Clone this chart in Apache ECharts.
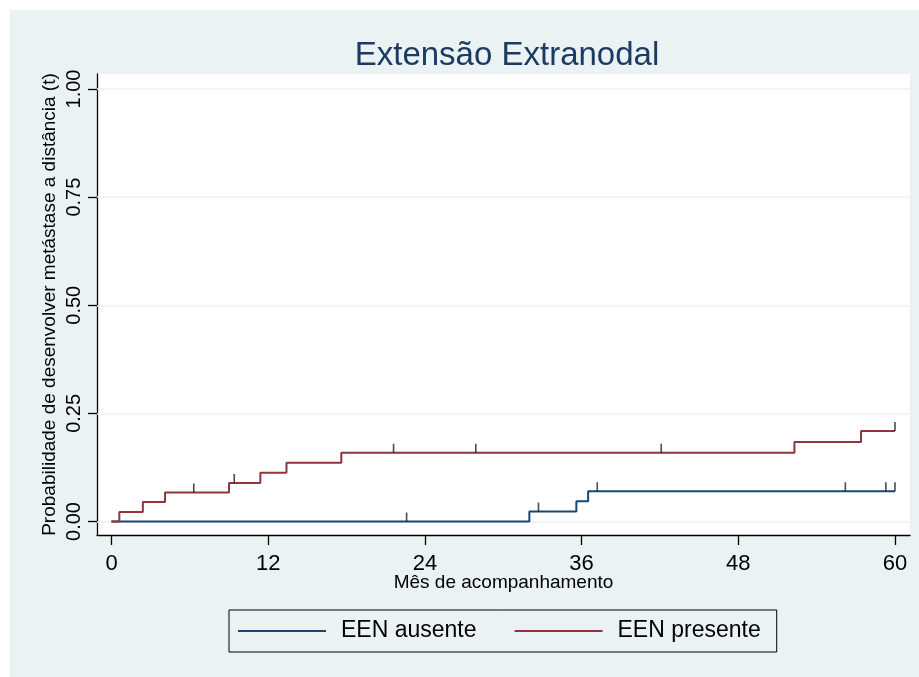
<!DOCTYPE html>
<html>
<head>
<meta charset="utf-8">
<script src="https://cdn.jsdelivr.net/npm/echarts@6/dist/echarts.min.js"></script>
<style>
  html, body { margin: 0; padding: 0; background: #ffffff; }
  #chart { width: 919px; height: 677px; }
</style>
</head>
<body>
<div id="chart"></div>
<script>
// Kaplan-Meier cumulative incidence of distant metastasis by extranodal extension
const seriesNames = ['EEN ausente', 'EEN presente'];

// EEN ausente: event times (months) and cumulative probability after each step
const ausenteTimes = [0, 32.0, 35.6, 36.5, 60];
const ausenteProb  = [0, 0.023, 0.047, 0.070, 0.070];
const ausenteCensored = [22.6, 32.7, 37.2, 56.2, 59.3, 60];

// EEN presente
const presenteTimes = [0, 0.6, 2.4, 4.1, 9.0, 11.4, 13.4, 17.6, 52.3, 57.4, 60];
const presenteProb  = [0, 0.022, 0.045, 0.067, 0.089, 0.113, 0.136, 0.159, 0.184, 0.209, 0.209];
const presenteCensored = [6.3, 9.4, 21.6, 27.9, 42.1, 60];

const xTicks = [0, 12, 24, 36, 48, 60];
const yTicks = [0, 0.25, 0.5, 0.75, 1];

const navy = '#1a476f';
const maroon = '#90353b';
const titleColor = '#1c3a62';
const bg = '#eaf2f3';
const font = '"Liberation Sans", Arial, Helvetica, sans-serif';

function stepData(times, probs) {
  return times.map((t, i) => [t, probs[i]]);
}
// probability level of the step function at time t
function levelAt(times, probs, t) {
  let v = probs[0];
  for (let i = 0; i < times.length; i++) {
    if (times[i] <= t) v = probs[i];
  }
  return v;
}
function censorData(censored, times, probs) {
  return censored.map(t => [t, levelAt(times, probs, t)]);
}

const chart = echarts.init(document.getElementById('chart'), null, { renderer: 'canvas' });

const censorStyle = {
  type: 'scatter',
  symbol: 'rect',
  symbolSize: [1.6, 9],
  symbolOffset: [0, -4.5],
  itemStyle: { color: '#1f1f1f' },
  silent: true,
  z: 12
};

chart.setOption({
  animation: false,
  backgroundColor: 'transparent',
  graphic: [{
    type: 'rect',
    shape: { x: 10, y: 10, width: 909, height: 667 },
    style: { fill: bg },
    z: -10,
    silent: true
  }],
  title: {
    text: 'Extensão Extranodal',
    left: 502,
    textAlign: 'center',
    top: 34,
    textStyle: { color: titleColor, fontFamily: font, fontSize: 33, fontWeight: 'normal' }
  },
  grid: {
    left: 97, top: 74, right: 9, bottom: 142,
    show: true, backgroundColor: '#ffffff', borderWidth: 0
  },
  legend: {
    left: 229,
    top: 610,
    orient: 'horizontal',
    data: seriesNames,
    icon: 'rect',
    itemWidth: 88,
    itemHeight: 2,
    itemGap: 38,
    padding: [9, 16, 9, 9],
    borderColor: '#000000',
    borderWidth: 1,
    backgroundColor: bg,
    textStyle: { fontFamily: font, fontSize: 23, color: '#000000', padding: [0, 0, 0, 10], lineHeight: 24 }
  },
  xAxis: {
    type: 'value',
    min: -1.11,
    max: 61.15,
    name: 'Mês de acompanhamento',
    nameLocation: 'middle',
    nameGap: 38,
    nameMoveOverlap: false,
    nameTextStyle: { fontFamily: font, fontSize: 19, color: '#000000' },
    axisLine: { show: true, onZero: false, lineStyle: { color: '#000000', width: 1.3 } },
    axisTick: { show: true, length: 10, customValues: xTicks, lineStyle: { color: '#000000', width: 1.3 } },
    axisLabel: {
      customValues: xTicks, margin: 18,
      fontFamily: font, fontSize: 22, color: '#000000',
      formatter: v => String(v)
    },
    splitLine: { show: false }
  },
  yAxis: {
    type: 'value',
    min: -0.0312,
    max: 1.0347,
    name: 'Probabilidade de desenvolver metástase a distância (t)',
    nameLocation: 'middle',
    nameRotate: 90,
    nameGap: 38,
    nameMoveOverlap: false,
    nameTextStyle: { fontFamily: font, fontSize: 19, color: '#000000' },
    axisLine: { show: true, onZero: false, lineStyle: { color: '#000000', width: 1.3 } },
    axisTick: { show: true, length: 9, customValues: yTicks, lineStyle: { color: '#000000', width: 1.3 } },
    axisLabel: {
      customValues: yTicks, rotate: 90, margin: 13,
      fontFamily: font, fontSize: 20, color: '#000000',
      formatter: v => v.toFixed(2)
    },
    splitLine: { show: false }
  },
  series: [
    {
      // horizontal grid lines at the labelled probabilities
      type: 'line',
      data: [],
      silent: true,
      z: 1,
      markLine: {
        silent: true,
        z: 1,
        symbol: 'none',
        label: { show: false },
        lineStyle: { color: bg, width: 1.5, type: 'solid' },
        data: yTicks.map(v => ({ yAxis: v }))
      }
    },
    {
      name: seriesNames[0],
      type: 'line',
      step: 'end',
      data: stepData(ausenteTimes, ausenteProb),
      showSymbol: false,
      color: navy,
      lineStyle: { color: navy, width: 2 },
      z: 10
    },
    {
      name: seriesNames[1],
      type: 'line',
      step: 'end',
      data: stepData(presenteTimes, presenteProb),
      showSymbol: false,
      color: maroon,
      lineStyle: { color: maroon, width: 2 },
      z: 10
    },
    Object.assign({ data: censorData(ausenteCensored, ausenteTimes, ausenteProb) }, censorStyle),
    Object.assign({ data: censorData(presenteCensored, presenteTimes, presenteProb) }, censorStyle)
  ]
});
</script>
</body>
</html>
